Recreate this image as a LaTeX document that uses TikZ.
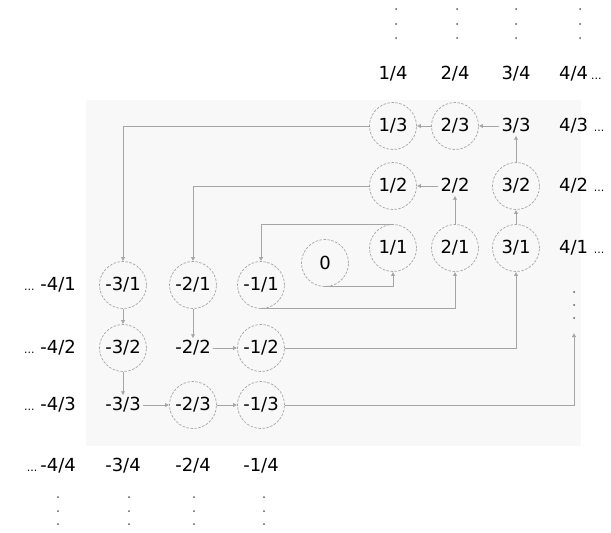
\documentclass[tikz,border=0pt]{standalone}
\usepackage{fontspec}
\setmainfont{DejaVu Sans}
\usetikzlibrary{arrows.meta, math}
\definecolor{mygray}{RGB}{165,165,165}
\definecolor{mydots}{RGB}{90,90,90}
\definecolor{mybg}{RGB}{248,248,248}
\newcommand{\smalldots}{{\fontsize{11}{11}\selectfont...}}

\begin{document}
\begin{tikzpicture}[x=1pt, y=-1pt,
  every node/.style={font=\fontsize{18}{20}\selectfont, inner sep=2pt},
  ring/.style={circle, draw=mygray, dash pattern=on 2.5pt off 1.5pt, line width=0.7pt, minimum size=47pt, inner sep=0pt},
  link/.style={draw=mygray, line width=0.8pt, -{Latex[length=4pt, width=4.5pt]}}]
\tikzmath{
\pxa=393; \pxb=455; \pxc=516;
\pya=248; \pyb=186; \pyc=126; \pyd=74;
\nxa=261; \nxb=193; \nxc=123;
\nya=285; \nyb=348; \nyc=405; \nyd=466;
}
\useasboundingbox (0,0) rectangle (611,533);
\fill[mybg] (86,100) rectangle (581,446);

% positive side
\node[ring] (p11) at (\pxa,\pya) {1/1};
\node[ring] (p21) at (\pxb,\pya) {2/1};
\node[ring] (p31) at (\pxc,\pya) {3/1};
\node[anchor=west] (p41) at (557,\pya) {4/1 \smalldots};
\node[ring] (p12) at (\pxa,\pyb) {1/2};
\node (p22) at (\pxb,\pyb) {2/2};
\node[ring] (p32) at (\pxc,\pyb) {3/2};
\node[anchor=west] (p42) at (557,\pyb) {4/2 \smalldots};
\node[ring] (p13) at (\pxa,\pyc) {1/3};
\node[ring] (p23) at (\pxb,\pyc) {2/3};
\node (p33) at (\pxc,\pyc) {3/3};
\node[anchor=west] (p43) at (557,\pyc) {4/3 \smalldots};
\node (p14) at (\pxa,\pyd) {1/4};
\node (p24) at (\pxb,\pyd) {2/4};
\node (p34) at (\pxc,\pyd) {3/4};
\node[anchor=west] (p44) at (557,\pyd) {4/4\,\smalldots};

\node[ring] (zero) at (325,263) {0};

% negative side
\node[ring] (m11) at (\nxa,\nya) {-1/1};
\node[ring] (m21) at (\nxb,\nya) {-2/1};
\node[ring] (m31) at (\nxc,\nya) {-3/1};
\node[anchor=east] (m41) at (78,\nya) {\smalldots\ -4/1};
\node[ring] (m12) at (\nxa,\nyb) {-1/2};
\node (m22) at (\nxb,\nyb) {-2/2};
\node[ring] (m32) at (\nxc,\nyb) {-3/2};
\node[anchor=east] (m42) at (78,\nyb) {\smalldots\ -4/2};
\node[ring] (m13) at (\nxa,\nyc) {-1/3};
\node[ring] (m23) at (\nxb,\nyc) {-2/3};
\node (m33) at (\nxc,\nyc) {-3/3};
\node[anchor=east] (m43) at (78,\nyc) {\smalldots\ -4/3};
\node (m14) at (\nxa,\nyd) {-1/4};
\node (m24) at (\nxb,\nyd) {-2/4};
\node (m34) at (\nxc,\nyd) {-3/4};
\node[anchor=east] (m44) at (78,\nyd) {\smalldots\,-4/4};

% vertical dots
\foreach \x in {396,457,516,580}
  \foreach \y in {9,24,38}
    \fill[mydots] (\x,\y) circle (1pt);
\foreach \x in {58,129,194,264}
  \foreach \y in {497,511,524}
    \fill[mydots] (\x,\y) circle (1pt);
\foreach \y in {292,305,318}
  \fill[mydots] (574,\y) circle (1pt);
\coordinate (rdots) at (574,333);

% enumeration path
\draw[link] (zero.south) -| (p11.south);
\draw[link] (p11.north) -| (m11.north);
\draw[link] (m11.south) -| (p21.south);
\draw[link] (p21) -- (p22);
\draw[link] (p22) -- (p12);
\draw[link] (p12.west) -| (m21.north);
\draw[link] (m21) -- (m22);
\draw[link] (m22) -- (m12);
\draw[link] (m12.east) -| (p31.south);
\draw[link] (p31) -- (p32);
\draw[link] (p32) -- (p33);
\draw[link] (p33) -- (p23);
\draw[link] (p23) -- (p13);
\draw[link] (p13.west) -| (m31.north);
\draw[link] (m31) -- (m32);
\draw[link] (m32) -- (m33);
\draw[link] (m33) -- (m23);
\draw[link] (m23) -- (m13);
\draw[link] (m13.east) -| (rdots);
\end{tikzpicture}
\end{document}
